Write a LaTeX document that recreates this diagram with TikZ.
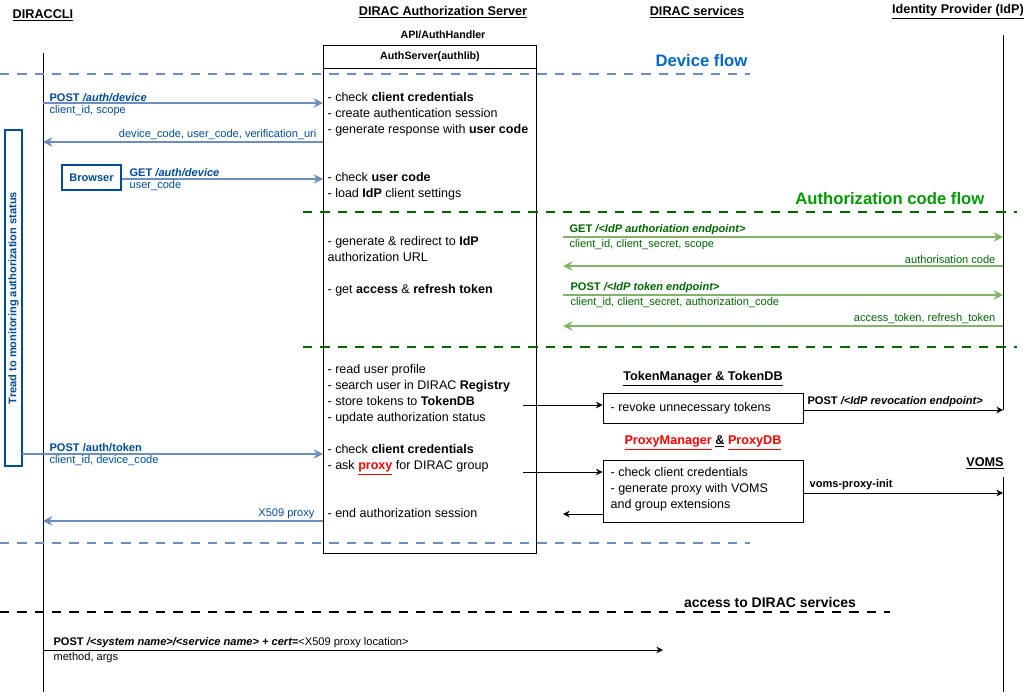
\documentclass[tikz,border=0pt]{standalone}
\usepackage{fontspec}
\setmainfont{Liberation Sans}
\usetikzlibrary{arrows.meta,positioning}
\definecolor{flowblue}{HTML}{6C8EBF}
\definecolor{txtblue}{HTML}{004C99}
\definecolor{headblue}{HTML}{0066CC}
\definecolor{flowgreen}{HTML}{82B366}
\definecolor{txtgreen}{HTML}{006600}
\definecolor{headgreen}{HTML}{009900}
\tikzset{
  actor/.style={font=\bfseries\fontsize{9.5}{11}\selectfont, inner sep=1pt},
  small/.style={font=\fontsize{8.3}{9.5}\selectfont, inner sep=1pt},
  srvstep/.style={font=\fontsize{9.4}{12}\selectfont, align=left, anchor=north west, inner sep=1pt},
  bluemsg/.style={draw=flowblue, line width=1.2pt, -{Stealth[length=7pt,width=7pt]}},
  greenmsg/.style={draw=flowgreen, line width=1.2pt, -{Stealth[length=7pt,width=7pt]}},
  blackmsg/.style={draw=black, line width=0.6pt, -{Stealth[length=5pt,width=5pt]}},
  sep/.style={dashed, dash pattern=on 7pt off 6pt, line width=1.5pt},
}
\begin{document}
\begin{tikzpicture}[x=0.75pt,y=-0.75pt]
  \useasboundingbox (0,0) rectangle (1034,696);

  % Actors
  \node[actor] (cli) at (43,15) {\underline{DIRACCLI}};
  \node[actor] (srv) at (443,12) {\underline{DIRAC Authorization Server}};
  \node[actor] (svc) at (697,12) {\underline{DIRAC services}};
  \node[actor] (idp) at (958,12) {\underline{Identity Provider (IdP)}};
  \node[actor, font=\bfseries\fontsize{8}{9}\selectfont] (hdl) at (443,35) {API/AuthHandler};
  \node[actor] (voms) at (985,463) {\underline{VOMS}};

  % Lifelines
  \coordinate (c0) at (43,53);   \coordinate (c1) at (43,692);
  \coordinate (i0) at (1003,35); \coordinate (i1) at (1003,410);
  \coordinate (v0) at (1003,477); \coordinate (v1) at (1003,692);
  \draw (c0) -- (c1);
  \draw (i0) -- (i1);
  \draw (v0) -- (v1);

  % Server box
  \draw (323,45) rectangle (536,553);
  \draw (323,68) -- (536,68);
  \node[actor, font=\bfseries\fontsize{8}{9}\selectfont] (authlib) at (430,57) {AuthServer(authlib)};

  % Flow separators
  \draw[sep, flowblue] (0,74) -- (750,74);
  \draw[sep, flowblue] (0,543) -- (750,543);
  \node[font=\bfseries\fontsize{12.5}{14}\selectfont, text=headblue, anchor=east] (devflow) at (752,61) {Device flow};
  \draw[sep, txtgreen] (303,212) -- (1017,212);
  \draw[sep, txtgreen] (303,347) -- (1017,347);
  \node[font=\bfseries\fontsize{12.5}{14}\selectfont, text=headgreen, anchor=east] (codeflow) at (989,199) {Authorization code flow};
  \draw[sep, black, line width=1.2pt] (0,612) -- (890,612);
  \node[actor, font=\bfseries\fontsize{10.5}{12}\selectfont] (access) at (770,602) {access to DIRAC services};

  % Server steps
  \node[srvstep] (s1) at (326,91) {- check \textbf{client credentials}\\- create authentication session\\- generate response with \textbf{user code}};
  \node[srvstep] (s2) at (326,171) {- check \textbf{user code}\\- load \textbf{IdP} client settings};
  \node[srvstep] (s3) at (326,235) {- generate \& redirect to \textbf{IdP}\\authorization URL};
  \node[srvstep] (s4) at (326,283) {- get \textbf{access} \& \textbf{refresh token}};
  \node[srvstep] (s5) at (326,363) {- read user profile\\- search user in DIRAC \textbf{Registry}\\- store tokens to \textbf{TokenDB}\\- update authorization status};
  \node[srvstep] (s6) at (326,443) {- check \textbf{client credentials}\\- ask \textbf{\textcolor{red}{\underline{proxy}}} for DIRAC group};
  \node[srvstep] (s7) at (326,507) {- end authorization session};

  % Monitoring thread
  \node[draw=txtblue, line width=0.8pt, minimum width=17*0.75pt, minimum height=336*0.75pt, inner sep=0pt] (tread) at (13.5,298) {};
  \node[rotate=90, font=\bfseries\fontsize{8.3}{9}\selectfont, text=txtblue] (treadtxt) at (tread.center) {Tread to monitoring authorization status};

  % Browser
  \node[draw=txtblue, line width=1.2pt, font=\bfseries\fontsize{8.3}{9}\selectfont, text=txtblue, minimum width=59*0.75pt, minimum height=25*0.75pt, inner sep=0pt] (browser) at (91.5,177.5) {Browser};

  % Device flow messages
  \coordinate (a1s) at (43,103);  \coordinate (a1e) at (323,103);
  \coordinate (a2s) at (323,142); \coordinate (a2e) at (43,142);
  \coordinate (a3e) at (323,179);
  \coordinate (a4s) at (22,454);  \coordinate (a4e) at (323,454);
  \coordinate (a5s) at (323,521); \coordinate (a5e) at (43,521);
  \draw[bluemsg] (a1s) -- (a1e);
  \draw[bluemsg] (a2s) -- (a2e);
  \draw[bluemsg] (browser.east |- a3e) -- (a3e);
  \draw[bluemsg] (a4s) -- (a4e);
  \draw[bluemsg] (a5s) -- (a5e);
  \node[small, text=txtblue, anchor=south west] (l1a) at (48,103) {\textbf{POST \textit{/auth/device}}};
  \node[small, text=txtblue, anchor=north west] (l1b) at (48,104) {client\_id, scope};
  \node[small, text=txtblue, anchor=south east] (l2) at (318,141) {device\_code, user\_code, verification\_uri};
  \node[small, text=txtblue, anchor=south west] (l3a) at (128,178) {\textbf{GET \textit{/auth/device}}};
  \node[small, text=txtblue, anchor=north west] (l3b) at (128,179) {user\_code};
  \node[small, text=txtblue, anchor=south west] (l4a) at (48,453) {\textbf{POST /auth/token}};
  \node[small, text=txtblue, anchor=north west] (l4b) at (48,454) {client\_id, device\_code};
  \node[small, text=txtblue, anchor=south east] (l5) at (316,520) {X509 proxy};

  % Authorization code flow messages
  \coordinate (g1s) at (563,237); \coordinate (g1e) at (1003,237);
  \coordinate (g2s) at (1003,266); \coordinate (g2e) at (563,266);
  \coordinate (g3s) at (563,295); \coordinate (g3e) at (1003,295);
  \coordinate (g4s) at (1003,326); \coordinate (g4e) at (563,326);
  \draw[greenmsg] (g1s) -- (g1e);
  \draw[greenmsg] (g2s) -- (g2e);
  \draw[greenmsg] (g3s) -- (g3e);
  \draw[greenmsg] (g4s) -- (g4e);
  \node[small, text=txtgreen, anchor=south west] (m1a) at (568,236) {\textbf{GET \textit{/<IdP authoriation endpoint>}}};
  \node[small, text=txtgreen, anchor=north west] (m1b) at (568,238) {client\_id, client\_secret, scope};
  \node[small, text=txtgreen, anchor=south east] (m2) at (997,265) {authorisation code};
  \node[small, text=txtgreen, anchor=south west] (m3a) at (569,294) {\textbf{POST \textit{/<IdP token endpoint>}}};
  \node[small, text=txtgreen, anchor=north west] (m3b) at (569,296) {client\_id, client\_secret, authorization\_code};
  \node[small, text=txtgreen, anchor=south east] (m4) at (997,325) {access\_token, refresh\_token};

  % Token manager
  \node[actor] (tmtitle) at (703,379) {\underline{TokenManager \& TokenDB}};
  \node[draw, line width=0.6pt, minimum width=200*0.75pt, minimum height=30*0.75pt, inner sep=0pt] (tm) at (703,408) {};
  \node[srvstep, anchor=west] (tmtxt) at (609,408) {- revoke unnecessary tokens};
  \coordinate (t1s) at (523,405);
  \draw[blackmsg] (t1s) -- (tm.west |- t1s);
  \coordinate (t2e) at (1003,410);
  \draw[blackmsg] (tm.east |- t2e) -- (t2e);
  \node[small, anchor=south west] (revoke) at (806,408) {\textbf{POST \textit{/<IdP revocation endpoint>}}};

  % Proxy manager
  \node[actor] (pmtitle) at (703,443) {\textcolor{red}{\underline{ProxyManager}} \underline{\&} \textcolor{red}{\underline{ProxyDB}}};
  \node[draw, line width=0.6pt, minimum width=200*0.75pt, minimum height=62*0.75pt, inner sep=0pt] (pm) at (703,491) {};
  \node[srvstep] (pmtxt) at (609,466) {- check client credentials\\- generate proxy with VOMS\\and group extensions};
  \coordinate (p1s) at (523,472);
  \draw[blackmsg] (p1s) -- (pm.west |- p1s);
  \coordinate (p2e) at (563,514);
  \draw[blackmsg] (pm.west |- p2e) -- (p2e);
  \coordinate (p3e) at (1003,493);
  \draw[blackmsg] (pm.east |- p3e) -- (p3e);
  \node[small, anchor=south west] (vpi) at (808,491) {\textbf{voms-proxy-init}};

  % DIRAC services access
  \coordinate (d1s) at (43,650); \coordinate (d1e) at (663,650);
  \draw[blackmsg] (d1s) -- (d1e);
  \node[small, anchor=south west] (d1a) at (52,649) {\textbf{POST \textit{/<system name>/<service name> + cert=}}<X509 proxy location>};
  \node[small, anchor=north west] (d1b) at (52,651) {method, args};
\end{tikzpicture}
\end{document}
